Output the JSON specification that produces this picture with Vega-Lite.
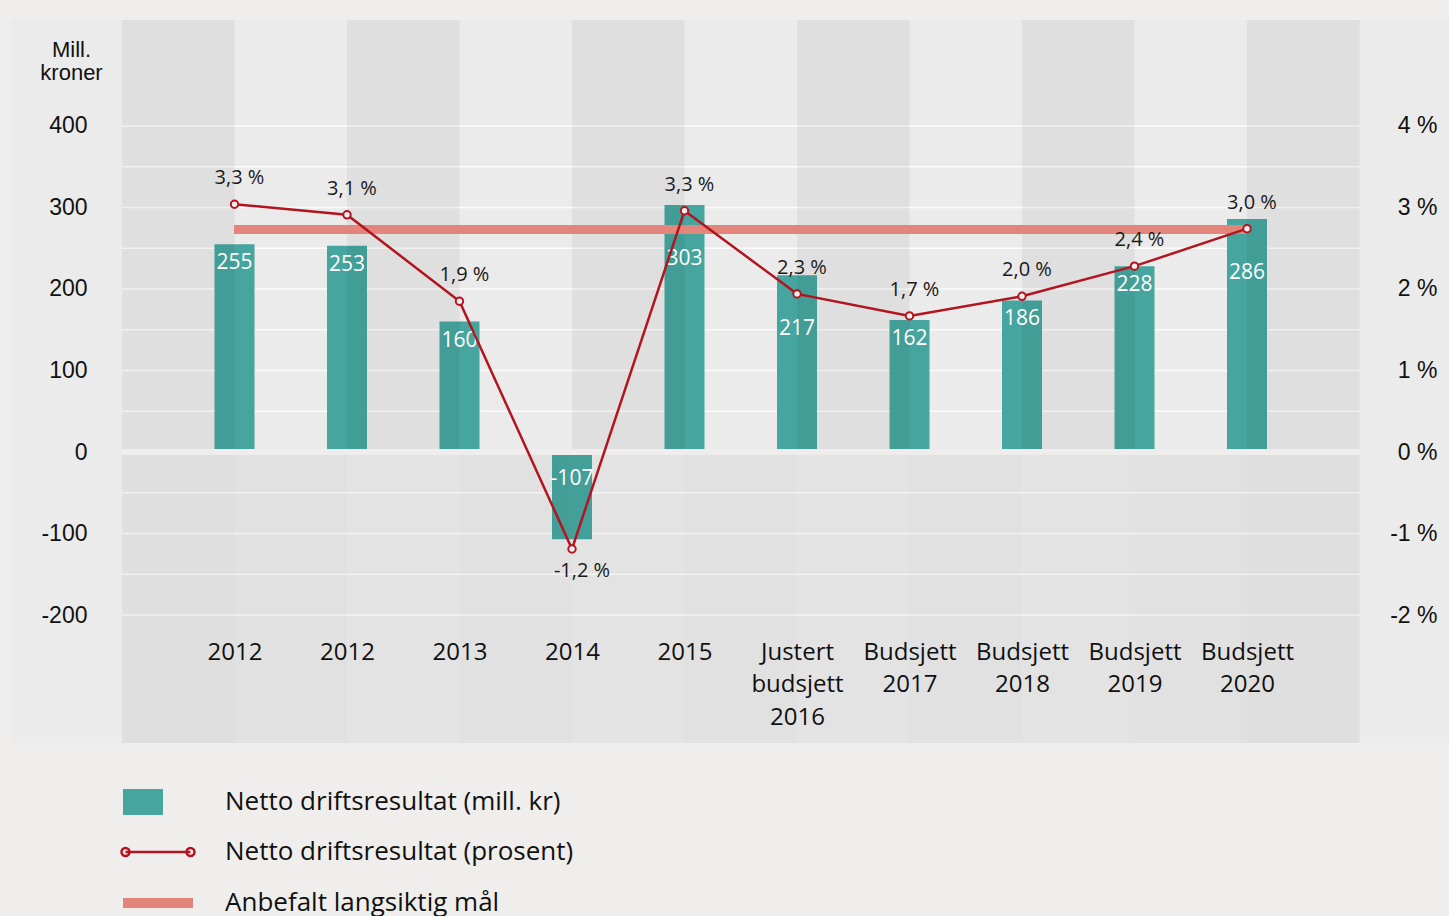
{
  "$schema": "https://vega.github.io/schema/vega-lite/v6.json",
  "width": 1437,
  "height": 723,
  "autosize": {"type": "none"},
  "padding": {"left": 12, "top": 20, "right": 0, "bottom": 173},
  "background": "#efeeec",
  "config": {
    "view": {"fill": "#ebebeb", "stroke": null},
    "text": {"font": "Open Sans"}
  },
  "datasets": {
    "main": [
      {"cat": "2012", "mill": 255, "pct": 3.04, "pctLabel": "3,3 %"},
      {"cat": "2012 ", "mill": 253, "pct": 2.91, "pctLabel": "3,1 %"},
      {"cat": "2013", "mill": 160, "pct": 1.85, "pctLabel": "1,9 %"},
      {"cat": "2014", "mill": -107, "pct": -1.19, "pctLabel": "-1,2 %"},
      {"cat": "2015", "mill": 303, "pct": 2.96, "pctLabel": "3,3 %"},
      {"cat": "Justert|budsjett|2016", "mill": 217, "pct": 1.94, "pctLabel": "2,3 %"},
      {"cat": "Budsjett|2017", "mill": 162, "pct": 1.67, "pctLabel": "1,7 %"},
      {"cat": "Budsjett|2018", "mill": 186, "pct": 1.91, "pctLabel": "2,0 %"},
      {"cat": "Budsjett|2019", "mill": 228, "pct": 2.28, "pctLabel": "2,4 %"},
      {"cat": "Budsjett|2020", "mill": 286, "pct": 2.74, "pctLabel": "3,0 %"}
    ],
    "stripes": [
      {"from": "<", "to": "2012", "part": "upper", "tone": "fold"},
      {"from": "2012 ", "to": "2013", "part": "upper", "tone": "fold"},
      {"from": "2014", "to": "2015", "part": "upper", "tone": "fold"},
      {"from": "Justert|budsjett|2016", "to": "Budsjett|2017", "part": "upper", "tone": "fold"},
      {"from": "Budsjett|2018", "to": "Budsjett|2019", "part": "upper", "tone": "fold"},
      {"from": "Budsjett|2020", "to": ">", "part": "upper", "tone": "fold"},
      {"from": "<", "to": "2012", "part": "lower", "tone": "fold"},
      {"from": "2012", "to": "2012 ", "part": "lower", "tone": "low"},
      {"from": "2012 ", "to": "2013", "part": "lower", "tone": "lowfold"},
      {"from": "2013", "to": "2014", "part": "lower", "tone": "low"},
      {"from": "2014", "to": "2015", "part": "lower", "tone": "lowfold"},
      {"from": "2015", "to": "Justert|budsjett|2016", "part": "lower", "tone": "low"},
      {"from": "Justert|budsjett|2016", "to": "Budsjett|2017", "part": "lower", "tone": "lowfold"},
      {"from": "Budsjett|2017", "to": "Budsjett|2018", "part": "lower", "tone": "low"},
      {"from": "Budsjett|2018", "to": "Budsjett|2019", "part": "lower", "tone": "lowfold"},
      {"from": "Budsjett|2019", "to": "Budsjett|2020", "part": "lower", "tone": "low"},
      {"from": "Budsjett|2020", "to": ">", "part": "lower", "tone": "fold"}
    ],
    "grid": [
      {"v": -200}, {"v": -150}, {"v": -100}, {"v": -50},
      {"v": 50}, {"v": 100}, {"v": 150}, {"v": 200}, {"v": 250},
      {"v": 300}, {"v": 350}, {"v": 400}
    ]
  },
  "resolve": {"scale": {"y": "independent"}},
  "layer": [
    {
      "layer": [
        {
          "data": {"name": "grid"},
          "mark": {"type": "rule", "color": "#ffffff", "strokeWidth": 1.6, "opacity": 0.85},
          "encoding": {
            "x": {
              "datum": "<", "type": "nominal",
              "scale": {
                "type": "point",
                "domain": ["<", "2012", "2012 ", "2013", "2014", "2015", "Justert|budsjett|2016", "Budsjett|2017", "Budsjett|2018", "Budsjett|2019", "Budsjett|2020", ">"],
                "padding": 0.8867, "align": 0.5514
              },
              "axis": {
                "title": null, "orient": "bottom", "domain": false, "ticks": false, "grid": false,
                "labelAngle": 0, "labelPadding": 0, "offset": -103,
                "labelFont": "Open Sans", "labelFontSize": 24, "labelColor": "#111111",
                "labelBaseline": "top", "labelLineHeight": 32.5, "labelOverlap": false, "labelFlush": false,
                "labelExpr": "datum.value == '<' || datum.value == '>' ? '' : split(trim(datum.value), '|')"
              }
            },
            "x2": {"datum": ">"},
            "y": {
              "field": "v", "type": "quantitative",
              "scale": {"domain": [-357, 530], "nice": false, "zero": false},
              "axis": {
                "orient": "left", "values": [-200, -100, 0, 100, 200, 300, 400],
                "domain": false, "ticks": false, "grid": false, "labelPadding": 0, "offset": -75,
                "labelFont": "Liberation Sans", "labelFontSize": 23, "labelColor": "#111111",
                "labelExpr": "'' + datum.value",
                "title": ["Mill.", "kroner"], "titleAngle": 0, "titleAlign": "center", "titleBaseline": "top",
                "titleX": -16, "titleY": 19, "titleFont": "Liberation Sans", "titleFontSize": 22,
                "titleFontWeight": "normal", "titleColor": "#111111", "titleLineHeight": 23
              }
            }
          }
        },
        {
          "data": {"name": "main"},
          "mark": {"type": "bar", "width": 40},
          "encoding": {
            "x": {"field": "cat", "type": "nominal"},
            "y": {"field": "mill", "type": "quantitative"},
            "fill": {
              "datum": "Netto driftsresultat (mill. kr)",
              "scale": {"range": ["#46a59e"]},
              "legend": {
                "orient": "none", "legendX": 111, "legendY": 762, "title": null, "padding": 0,
                "symbolType": "M-1,-0.65H1V0.65H-1Z", "symbolSize": 1600, "symbolStrokeWidth": 0,
                "labelFont": "Open Sans", "labelFontSize": 26, "labelColor": "#111111", "labelOffset": 62,
                "labelLimit": 700
              }
            }
          }
        },
        {
          "data": {"name": "stripes"},
          "transform": [{"filter": "datum.part == 'upper'"}],
          "mark": {"type": "rect", "color": "#000000"},
          "encoding": {
            "x": {"field": "from", "type": "nominal"},
            "x2": {"field": "to"},
            "y": {"datum": 0, "type": "quantitative"},
            "y2": {"datum": 530},
            "opacity": {"field": "tone", "type": "nominal", "scale": {"domain": ["fold", "low", "lowfold"], "range": [0.047, 0.03, 0.09]}, "legend": null}
          }
        },
        {
          "data": {"name": "stripes"},
          "transform": [{"filter": "datum.part == 'lower'"}],
          "mark": {"type": "rect", "color": "#000000"},
          "encoding": {
            "x": {"field": "from", "type": "nominal"},
            "x2": {"field": "to"},
            "y": {"datum": -357, "type": "quantitative"},
            "y2": {"datum": 0},
            "opacity": {"field": "tone", "type": "nominal", "legend": null}
          }
        },
        {
          "data": {"name": "main"},
          "mark": {"type": "rule", "color": "#efeeec", "strokeWidth": 5},
          "encoding": {
            "x": {"datum": "<", "type": "nominal"},
            "x2": {"datum": ">"},
            "y": {"datum": 0, "type": "quantitative"}
          }
        },
        {
          "data": {"name": "main"},
          "transform": [{"filter": "datum.mill >= 0"}],
          "mark": {"type": "text", "color": "#ffffff", "fontSize": 21, "baseline": "alphabetic",
            "dy": {"expr": "datum.mill - datum.pct * 100 > 5 ? 60 : 25"}},
          "encoding": {
            "x": {"field": "cat", "type": "nominal"},
            "y": {"field": "mill", "type": "quantitative"},
            "text": {"field": "mill", "type": "quantitative"}
          }
        },
        {
          "data": {"name": "main"},
          "transform": [{"filter": "datum.mill < 0"}],
          "mark": {"type": "text", "color": "#ffffff", "fontSize": 21, "dy": 33, "baseline": "alphabetic"},
          "encoding": {
            "x": {"field": "cat", "type": "nominal"},
            "y": {"datum": 0, "type": "quantitative"},
            "text": {"field": "mill", "type": "nominal"}
          }
        }
      ]
    },
    {
      "data": {"name": "main"},
      "layer": [
        {
          "mark": {"type": "rule", "strokeWidth": 9, "opacity": 0.92},
          "encoding": {
            "x": {"datum": "2012", "type": "nominal"},
            "x2": {"datum": "Budsjett|2020"},
            "y": {"datum": 2.73, "type": "quantitative",
              "scale": {"domain": [-3.57, 5.30], "nice": false, "zero": false},
              "axis": {
                "orient": "right", "values": [-2, -1, 0, 1, 2, 3, 4],
                "domain": false, "ticks": false, "grid": false, "labelPadding": 0, "offset": -12,
                "labelAlign": "right",
                "labelFont": "Liberation Sans", "labelFontSize": 23, "labelColor": "#111111",
                "labelExpr": "datum.value + ' %'", "title": null
              }
            },
            "color": {
              "datum": "Anbefalt langsiktig mål",
              "scale": {"range": ["#e3857a"]},
              "legend": {
                "orient": "none", "legendX": 106, "legendY": 843, "title": null, "padding": 0,
                "symbolType": "stroke", "symbolSize": 4900, "symbolStrokeWidth": 10, "symbolStrokeColor": "#e67f7c",
                "symbolOpacity": 1,
                "labelFont": "Open Sans", "labelFontSize": 26, "labelColor": "#111111", "labelOffset": 27,
                "labelLimit": 700
              }
            }
          }
        },
        {
          "mark": {"type": "line", "strokeWidth": 2.5},
          "encoding": {
            "x": {"field": "cat", "type": "nominal"},
            "y": {"field": "pct", "type": "quantitative"},
            "stroke": {
              "datum": "Netto driftsresultat (prosent)",
              "scale": {"range": ["#b3141f"]},
              "legend": {
                "orient": "none", "legendX": 108, "legendY": 794, "title": null, "padding": 0,
                "symbolType": "M-0.89,0H0.89M-1,0A0.11,0.11 0 1,0 -0.78,0A0.11,0.11 0 1,0 -1,0M0.78,0A0.11,0.11 0 1,0 1,0A0.11,0.11 0 1,0 0.78,0",
                "symbolSize": 5329, "symbolStrokeWidth": 2.5, "symbolFillColor": "#efeeec",
                "labelFont": "Open Sans", "labelFontSize": 26, "labelColor": "#111111", "labelOffset": 29,
                "labelLimit": 700
              }
            }
          }
        },
        {
          "mark": {"type": "point", "filled": true, "fill": "#efefef", "stroke": "#b3141f", "strokeWidth": 2, "size": 55, "opacity": 1},
          "encoding": {
            "x": {"field": "cat", "type": "nominal"},
            "y": {"field": "pct", "type": "quantitative"}
          }
        },
        {
          "transform": [{"filter": "datum.pct >= 0"}],
          "mark": {"type": "text", "color": "#1a1a1a", "fontSize": 20, "dy": -20, "dx": 5, "baseline": "alphabetic"},
          "encoding": {
            "x": {"field": "cat", "type": "nominal"},
            "y": {"field": "pct", "type": "quantitative"},
            "text": {"field": "pctLabel", "type": "nominal"}
          }
        },
        {
          "transform": [{"filter": "datum.pct < 0"}],
          "mark": {"type": "text", "color": "#1a1a1a", "fontSize": 20, "dy": 28, "dx": 10, "baseline": "alphabetic"},
          "encoding": {
            "x": {"field": "cat", "type": "nominal"},
            "y": {"field": "pct", "type": "quantitative"},
            "text": {"field": "pctLabel", "type": "nominal"}
          }
        }
      ]
    }
  ]
}
